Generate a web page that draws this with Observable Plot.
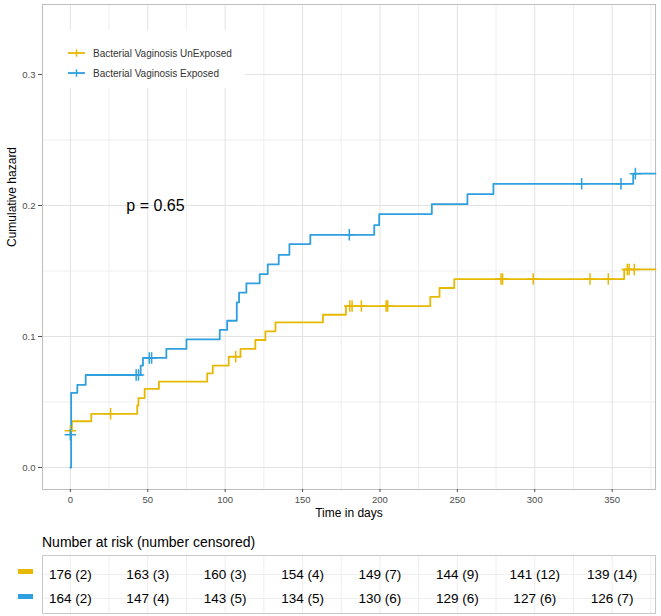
<!DOCTYPE html>
<html>
<head>
<meta charset="utf-8">
<script src="https://cdn.jsdelivr.net/npm/d3@7"></script>
<script src="https://cdn.jsdelivr.net/npm/@observablehq/plot@0.6"></script>
<style>
  body { margin: 0; background: #fff; font-family: Arial, "Liberation Sans", sans-serif; }
  #wrap { position: relative; width: 661px; height: 616px; overflow: hidden; }
  #title { height: 24px; line-height: 24px; padding-left: 42px; font-size: 14px; color: #000; }
  #legend { position: absolute; left: 43px; top: 30px; width: 202px; height: 58px; background: #fff; }
  .lrow { position: absolute; left: 0; height: 20px; display: flex; align-items: center; font-size: 10px; color: #333; }
  .lrow svg { margin-left: 25px; margin-right: 8px; }
  .swatch { position: absolute; left: 18px; width: 15px; height: 5px; }
</style>
</head>
<body>
<div id="wrap"></div>
<script>
// ---------- data ----------
const groups = ["Bacterial Vaginosis UnExposed", "Bacterial Vaginosis Exposed"];
const groupColors = ["#E7B800", "#2E9FDF"];

// step curve: Bacterial Vaginosis UnExposed
const unexposedTime = [0, 1, 13.5, 43.2, 44, 48, 57.2, 88.4, 92, 102.3, 109.9, 119.5, 126, 132.5, 163.2, 178, 232.5, 238.5, 248, 357.8, 378];
const unexposedHaz  = [0.028, 0.0353, 0.041, 0.0473, 0.053, 0.060, 0.0655, 0.0719, 0.0777, 0.0846, 0.0905, 0.0973, 0.1039, 0.1108, 0.1166, 0.1232, 0.1303, 0.137, 0.1438, 0.1512, 0.1512];

// step curve: Bacterial Vaginosis Exposed
const exposedTime = [0, 0.5, 4.5, 9.9, 45.4, 46.9, 62, 75, 96.5, 101.3, 107.5, 109, 113.7, 122.3, 127.5, 134.6, 141.5, 155, 196.3, 199.5, 233.5, 256.5, 273.3, 363.6, 378];
const exposedHaz  = [0, 0.057, 0.063, 0.0706, 0.0777, 0.0836, 0.0905, 0.0978, 0.105, 0.112, 0.126, 0.1334, 0.1405, 0.1476, 0.155, 0.1623, 0.1705, 0.1776, 0.185, 0.1934, 0.201, 0.2086, 0.2165, 0.2243, 0.2243];

// censoring marks
const unexposedCensorTime = [0, 26, 106.8, 180.5, 182, 188, 204, 205, 278.2, 279.2, 299, 335.7, 347.5, 359.8, 361, 364.3];
const unexposedCensorHaz  = [0.028, 0.041, 0.0846, 0.1232, 0.1232, 0.1232, 0.1232, 0.1232, 0.1438, 0.1438, 0.1438, 0.1438, 0.1438, 0.1512, 0.1512, 0.1512];
const exposedCensorTime = [0, 42.5, 44, 51, 52.5, 180.2, 330.3, 355.7, 365];
const exposedCensorHaz  = [0.025, 0.0706, 0.0706, 0.0836, 0.0836, 0.1776, 0.2165, 0.2165, 0.2243];

// axes
const xTicks = [0, 50, 100, 150, 200, 250, 300, 350];
const yTicks = [0, 0.1, 0.2, 0.3];
const xMinor = [25, 75, 125, 175, 225, 275, 325, 375];
const yMinor = [0.05, 0.15, 0.25];
const xDomain = [-18, 378];
const yDomain = [-0.0168, 0.3534];

// annotation
const pvalText = "p = 0.65";
const pvalTime = 55;
const pvalHaz = 0.2;

// risk table
const riskTimes = [0, 50, 100, 150, 200, 250, 300, 350];
const unexposedRisk = [176, 163, 160, 154, 149, 144, 141, 139];
const unexposedCensored = [2, 3, 3, 4, 7, 9, 12, 14];
const exposedRisk = [164, 147, 143, 134, 130, 129, 127, 126];
const exposedCensored = [2, 4, 5, 5, 6, 6, 6, 7];

// ---------- build tables ----------
const curveRows = [
  ...unexposedTime.map((t, i) => ({t, h: unexposedHaz[i], group: groups[0]})),
  ...exposedTime.map((t, i) => ({t, h: exposedHaz[i], group: groups[1]}))
];
const censorRows = [
  ...unexposedCensorTime.map((t, i) => ({t, h: unexposedCensorHaz[i], group: groups[0]})),
  ...exposedCensorTime.map((t, i) => ({t, h: exposedCensorHaz[i], group: groups[1]}))
];
const riskRows = [
  ...riskTimes.map((t, i) => ({t, group: groups[0], label: `${unexposedRisk[i]} (${unexposedCensored[i]})`})),
  ...riskTimes.map((t, i) => ({t, group: groups[1], label: `${exposedRisk[i]} (${exposedCensored[i]})`}))
];

const FONT = "Arial, 'Liberation Sans', sans-serif";
const gridMajor = "#E2E2E2";
const gridMinor = "#EEEEEE";

const main = Plot.plot({
  width: 661,
  height: 530,
  marginTop: 4,
  marginBottom: 41,
  marginLeft: 42,
  marginRight: 6,
  style: {fontFamily: FONT, fontSize: "9.5px", background: "white", overflow: "visible"},
  x: {domain: xDomain, label: null},
  y: {domain: yDomain, label: null},
  color: {domain: groups, range: groupColors},
  marks: [
    Plot.gridX(xMinor, {stroke: gridMinor, strokeOpacity: 1}),
    Plot.gridY(yMinor, {stroke: gridMinor, strokeOpacity: 1}),
    Plot.gridX(xTicks, {stroke: gridMajor, strokeOpacity: 1}),
    Plot.gridY(yTicks, {stroke: gridMajor, strokeOpacity: 1}),
    Plot.frame({stroke: "#BEBEBE"}),
    Plot.axisX(xTicks, {tickSize: 3, tickPadding: 4, color: "#4D4D4D", label: null}),
    Plot.axisY(yTicks, {tickSize: 4, tickPadding: 3, color: "#4D4D4D", label: null, tickFormat: d3.format(".1f")}),
    Plot.line(curveRows, {x: "t", y: "h", z: "group", stroke: "group", curve: "step-after", strokeWidth: 1.8}),
    Plot.dot(censorRows, {x: "t", y: "h", stroke: "group", symbol: "plus", r: 3.8, strokeWidth: 1.5}),
    Plot.text([pvalText], {x: () => pvalTime, y: () => pvalHaz, text: d => d, fontSize: 16, fill: "#000"}),
    Plot.text(["Time in days"], {frameAnchor: "bottom", dy: 27, fontSize: 12, fill: "#000"}),
    Plot.text(["Cumulative hazard"], {frameAnchor: "left", dx: -30, rotate: -90, fontSize: 12, fill: "#000"})
  ]
});

const table = Plot.plot({
  width: 661,
  height: 62,
  marginTop: 1,
  marginBottom: 3,
  marginLeft: 42,
  marginRight: 6,
  style: {fontFamily: FONT, background: "white"},
  x: {domain: xDomain, axis: null},
  y: {type: "point", domain: groups, padding: 0.6, insetTop: 3, axis: null},
  marks: [
    Plot.gridX([...xTicks, ...xMinor], {stroke: gridMinor, strokeOpacity: 1}),
    Plot.ruleY(groups, {y: d => d, stroke: gridMinor}),
    Plot.frame({stroke: "#C8C8C8"}),
    Plot.text(riskRows, {x: "t", y: "group", text: "label", fontSize: 13.5, fill: "#000"})
  ]
});

const wrap = document.getElementById("wrap");
wrap.appendChild(main);
const title = document.createElement("div");
title.id = "title";
title.textContent = "Number at risk (number censored)";
wrap.appendChild(title);
wrap.appendChild(table);

// legend (inside the panel, top-left)
const legend = document.createElement("div");
legend.id = "legend";
groups.forEach((g, i) => {
  const row = document.createElement("div");
  row.className = "lrow";
  row.style.top = (13 + i * 20) + "px";
  const c = groupColors[i];
  row.innerHTML = `<svg width="17" height="10"><line x1="0" y1="5" x2="17" y2="5" stroke="${c}" stroke-width="1.8"/><line x1="8.5" y1="1.3" x2="8.5" y2="8.7" stroke="${c}" stroke-width="1.5"/></svg><span>${g}</span>`;
  legend.appendChild(row);
});
wrap.appendChild(legend);

// risk table colour keys
groups.forEach((g, i) => {
  const s = document.createElement("div");
  s.className = "swatch";
  s.style.background = groupColors[i];
  s.style.top = (568.5 + i * 25) + "px";
  wrap.appendChild(s);
});
</script>
</body>
</html>
